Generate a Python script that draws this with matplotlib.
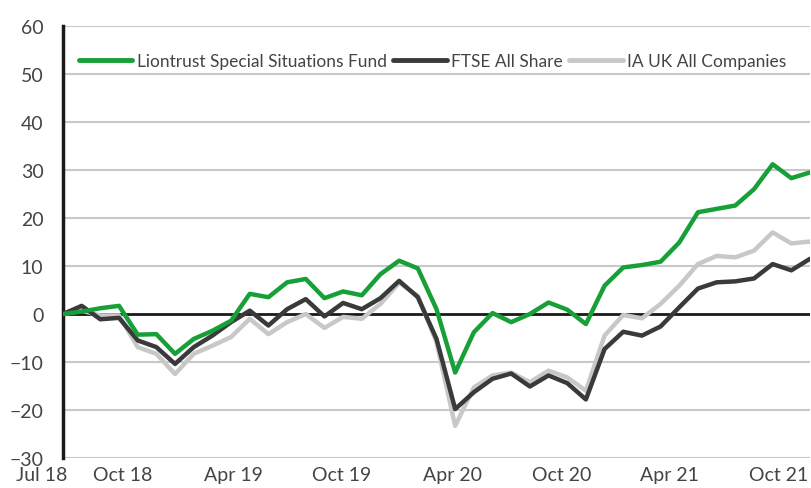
import matplotlib
matplotlib.use("Agg")
import matplotlib.pyplot as plt
from matplotlib.transforms import ScaledTranslation

# monthly cumulative performance (%), Jul 18 .. Nov 21
months = list(range(41))
fund = [0, 0.5, 1.2, 1.7, -4.3, -4.2, -8.3, -5.2, -3.5, -1.4,
        4.2, 3.5, 6.6, 7.3, 3.3, 4.7, 3.9, 8.3, 11.1, 9.5,
        1.0, -12.2, -3.8, 0.2, -1.7, 0.0, 2.4, 0.9, -2.1, 5.9,
        9.7, 10.2, 10.9, 14.9, 21.2, 21.9, 22.6, 26.0, 31.2, 28.3,
        29.5]
ftse = [0, 1.7, -1.1, -0.8, -5.5, -6.9, -10.4, -6.9, -4.5, -1.7,
        0.7, -2.4, 1.0, 3.1, -0.5, 2.3, 1.0, 3.3, 6.9, 3.5,
        -5.2, -19.8, -16.3, -13.5, -12.4, -15.1, -12.8, -14.4, -17.8, -7.3,
        -3.7, -4.5, -2.6, 1.4, 5.3, 6.6, 6.8, 7.4, 10.4, 9.1,
        11.5]
ia_uk = [0, 0.7, -0.3, -0.3, -6.9, -8.3, -12.5, -8.3, -6.6, -4.8,
         -1.0, -4.2, -1.7, 0.0, -2.9, -0.6, -1.0, 2.1, 6.5, 3.8,
         -5.9, -23.3, -15.3, -12.8, -12.2, -14.2, -11.8, -13.2, -16.0, -4.5,
         -0.2, -0.9, 2.1, 5.9, 10.4, 12.1, 11.8, 13.2, 17.0, 14.7,
         15.1]
tick_pos = [0, 3, 9, 15, 21, 27, 33, 39]
tick_labels = ["Jul 18", "Oct 18", "Apr 19", "Oct 19", "Apr 20", "Oct 20", "Apr 21", "Oct 21"]
# small horizontal nudges (px) so labels sit like the original
label_shift = [-21, 4, 2, -1, -3, -6, -10, -13]

plt.rcParams['font.family'] = ['Lato', 'DejaVu Sans']
txt = "#444444"

fig = plt.figure(figsize=(8.11, 4.89), dpi=100)
ax = fig.add_axes([63 / 811, 30 / 489, 747 / 811, 432 / 489])

for y in range(-30, 70, 10):
    if y != 0:
        ax.axhline(y, color="#c8c8c8", lw=1.5, zorder=0)
ax.axhline(0, color="#1a1a1a", lw=2, zorder=1)

ax.plot(months, fund, color="#16a037", lw=3.2, label="Liontrust Special Situations Fund",
        solid_capstyle="round", zorder=4)
ax.plot(months, ftse, color="#3a3a3a", lw=3.2, label="FTSE All Share",
        solid_capstyle="round", zorder=3)
ax.plot(months, ia_uk, color="#c8c8c8", lw=3.2, label="IA UK All Companies",
        solid_capstyle="round", zorder=2)

ax.set_xlim(0, 40)
ax.set_ylim(-30, 60)
ax.set_yticks(range(-30, 70, 10))
ax.set_xticks(tick_pos)
ax.set_xticklabels(tick_labels)
ax.tick_params(axis="both", length=0, labelsize=14, labelcolor=txt)
ax.tick_params(axis="y", pad=14)
ax.tick_params(axis="x", pad=6)
for lab, dx in zip(ax.get_xticklabels(), label_shift):
    lab.set_transform(lab.get_transform() + ScaledTranslation(dx / 100, 0, fig.dpi_scale_trans))

for s in ["top", "right", "bottom"]:
    ax.spines[s].set_visible(False)
ax.spines["left"].set_linewidth(2.5)
ax.spines["left"].set_color("#1a1a1a")

leg = ax.legend(loc="upper left", bbox_to_anchor=(0.0, 0.973), ncol=3, frameon=False,
                fontsize=12.5, handlelength=3.1, handletextpad=0.25, columnspacing=0.35,
                labelcolor=txt)
for h in leg.get_lines():
    h.set_linewidth(3.5)

fig.savefig("out.png", dpi=100)
